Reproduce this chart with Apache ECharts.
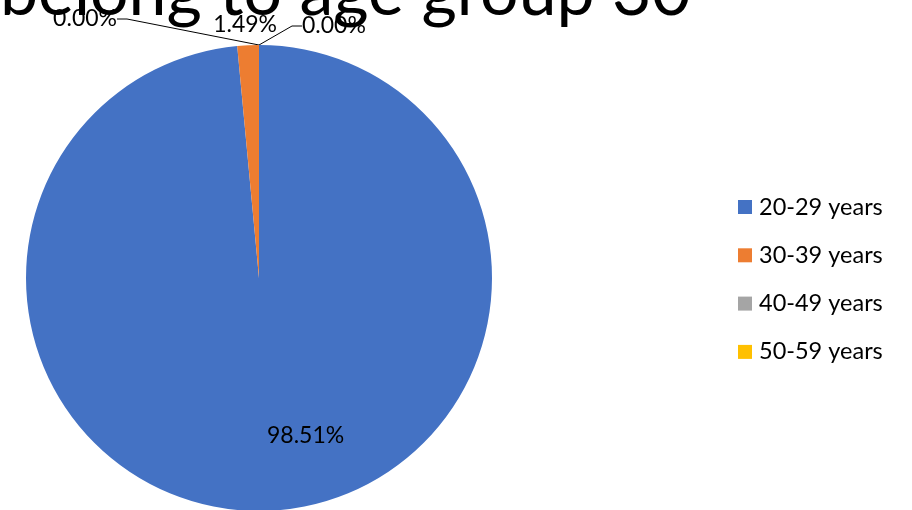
<!DOCTYPE html>
<html>
<head>
<meta charset="utf-8">
<script src="https://cdn.jsdelivr.net/npm/echarts@6/dist/echarts.min.js"></script>
<style>
  html, body { margin: 0; padding: 0; background: #fff; }
  #chart { width: 912px; height: 510px; }
</style>
</head>
<body>
<div id="chart"></div>
<script>
// Age groups and their shares (percent)
const categories = ['20-29 years', '30-39 years', '40-49 years', '50-59 years'];
const shares = [98.51, 1.49, 0.00, 0.00];
const colors = ['#4472C4', '#ED7D31', '#A5A5A5', '#FFC000'];
const titleText = 'belong to age group 30';

const FONT = 'Lato, "Open Sans", sans-serif';

const chart = echarts.init(document.getElementById('chart'));

// Per-slice label styling: the callout labels get a little padding so their
// leader lines attach just below and beside the text.
const labelStyles = [
  { position: 'inside' },
  { position: 'outside' },
  { position: 'outside', padding: [0, 6, 12, 0] },
  { position: 'outside', padding: [0, 0, 14, 5] }
];

const pieData = categories.map((name, i) => ({
  name: name,
  value: shares[i],
  itemStyle: { color: colors[i] },
  label: labelStyles[i],
  labelLine: { show: i >= 2 }
}));

// Label placement around the top of the pie: the big slice's label sits low
// inside it, the thin slice's label floats just above it, and the two empty
// slices get callouts to the left and right.
function placeLabel(params) {
  const r = params.rect;
  switch (params.dataIndex) {
    case 0:
      return { dx: 41, dy: 38 };
    case 1:
      return { x: r.x + r.width / 2 - 3, y: r.y - 20, align: 'center', verticalAlign: 'middle' };
    case 2:
      return { x: r.x - 136, y: r.y - 26, align: 'right', verticalAlign: 'middle' };
    default:
      return { x: r.x + 38, y: r.y - 19, align: 'left', verticalAlign: 'middle' };
  }
}

chart.setOption({
  animation: false,
  title: {
    text: titleText,
    left: -5,
    top: -46,
    textStyle: { fontFamily: FONT, fontSize: 68, fontWeight: 'normal', color: '#000' }
  },
  legend: {
    orient: 'vertical',
    left: 733,
    top: 190,
    itemWidth: 14,
    itemHeight: 14,
    itemGap: 24.3,
    icon: 'rect',
    textStyle: { fontFamily: FONT, fontSize: 23.5, color: '#000', padding: [0, 0, 0, 2] },
    data: categories
  },
  series: [{
    type: 'pie',
    center: [259, 278],
    radius: 233,
    startAngle: 90,
    clockwise: true,
    avoidLabelOverlap: false,
    data: pieData,
    label: {
      show: true,
      fontFamily: FONT,
      fontSize: 23,
      color: '#000',
      formatter: p => p.value.toFixed(2) + '%'
    },
    labelLine: {
      show: true,
      length: 12,
      length2: 10,
      minTurnAngle: 0,
      lineStyle: { color: '#000', width: 1 }
    },
    labelLayout: placeLabel,
    emphasis: { disabled: true }
  }]
});
</script>
</body>
</html>
